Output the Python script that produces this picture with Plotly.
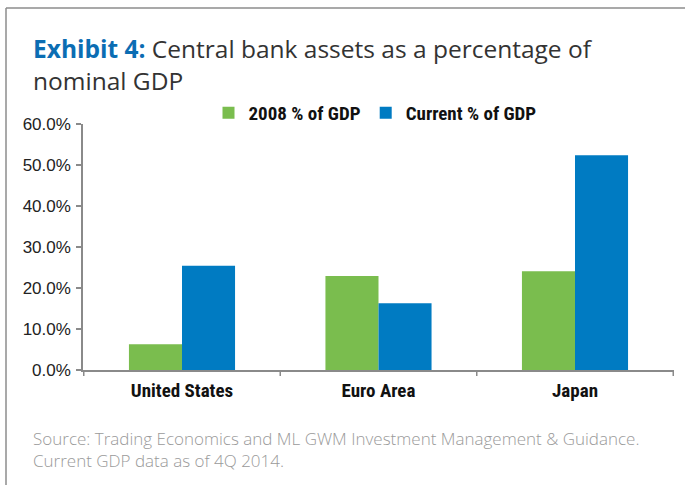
import plotly.graph_objects as go

categories = ["United States", "Euro Area", "Japan"]
pct_2008 = [6.3, 22.9, 24.1]
pct_current = [25.4, 16.3, 52.4]
y_ticks = [0, 10, 20, 30, 40, 50, 60]
y_tick_labels = [f"{v:.1f}%" for v in y_ticks]

W, H = 685, 485
L, R, T, B = 83, 674, 124, 370  # plot area in pixels
pw, ph = R - L, B - T


def px(x):
    return (x - L) / pw


def py(y):
    return (B - y) / ph


GREEN = "#7abd4e"
BLUE = "#007bc2"
NARROW = "Liberation Sans Narrow, Roboto Condensed, Arial Narrow, sans-serif"

fig = go.Figure()
fig.add_trace(go.Bar(x=categories, y=pct_2008, name="2008 % of GDP",
                     marker=dict(color=GREEN, line=dict(width=0))))
fig.add_trace(go.Bar(x=categories, y=pct_current, name="Current % of GDP",
                     marker=dict(color=BLUE, line=dict(width=0))))

axis_col = "#8a8a8a"
fig.update_layout(
    width=W, height=H,
    margin=dict(l=L, r=W - R, t=T, b=H - B, pad=0),
    paper_bgcolor="white", plot_bgcolor="white",
    barmode="group", bargap=0.46, bargroupgap=0,
    showlegend=True,
    legend=dict(orientation="h", x=px(375), xanchor="center", y=py(113), yanchor="middle",
                font=dict(family=NARROW, size=19, color="#111111", weight="bold"),
                itemwidth=30, traceorder="normal", tracegroupgap=0,
                bgcolor="rgba(0,0,0,0)"),
    xaxis=dict(showline=True, linecolor=axis_col, linewidth=1.5,
               ticks="", showgrid=False, zeroline=False,
               tickfont=dict(family=NARROW, size=19, color="#111111", weight="bold"),
               ticklabelstandoff=2),
    yaxis=dict(range=[0, 60], tickvals=y_ticks, ticktext=y_tick_labels,
               showline=True, linecolor=axis_col, linewidth=1.5,
               ticks="outside", ticklen=5, tickcolor=axis_col, tickwidth=1.5,
               showgrid=False, zeroline=False, ticklabelstandoff=2,
               tickfont=dict(family="Liberation Sans, Arial, sans-serif", size=17, color="#222222")),
    font=dict(family="Liberation Sans, Arial, sans-serif"),
)

# category divider ticks on x axis
shapes = []
for i in range(len(categories) + 1):
    shapes.append(dict(type="line", xref="x", yref="paper", x0=i - 0.5, x1=i - 0.5,
                       y0=0, y1=py(376), line=dict(color=axis_col, width=1.5)))
# frame lines (top and left)
shapes.append(dict(type="line", xref="paper", yref="paper", x0=px(6), x1=px(690),
                   y0=py(8), y1=py(8), line=dict(color="#8c8c8c", width=1.5)))
shapes.append(dict(type="line", xref="paper", yref="paper", x0=px(6), x1=px(6),
                   y0=py(8), y1=py(490), line=dict(color="#8c8c8c", width=1.5)))
fig.update_layout(shapes=shapes)

title_font = dict(family="Open Sans, sans-serif", size=24.5, color="#333333")
fig.add_annotation(xref="paper", yref="paper", x=px(31), y=py(30), xanchor="left", yanchor="top",
                   showarrow=False, align="left", font=title_font,
                   text="<b><span style='color:#0b6db3'>Exhibit 4:</span></b> Central bank assets as a percentage of<br>nominal GDP")

src_font = dict(family="Open Sans, sans-serif", size=17, color="#9a9a9a", weight=300)
fig.add_annotation(xref="paper", yref="paper", x=px(31), y=py(425), xanchor="left", yanchor="top",
                   showarrow=False, align="left", font=src_font,
                   text="Source: Trading Economics and ML GWM Investment Management & Guidance.<br>Current GDP data as of 4Q 2014.")

fig.write_html("out.html")
